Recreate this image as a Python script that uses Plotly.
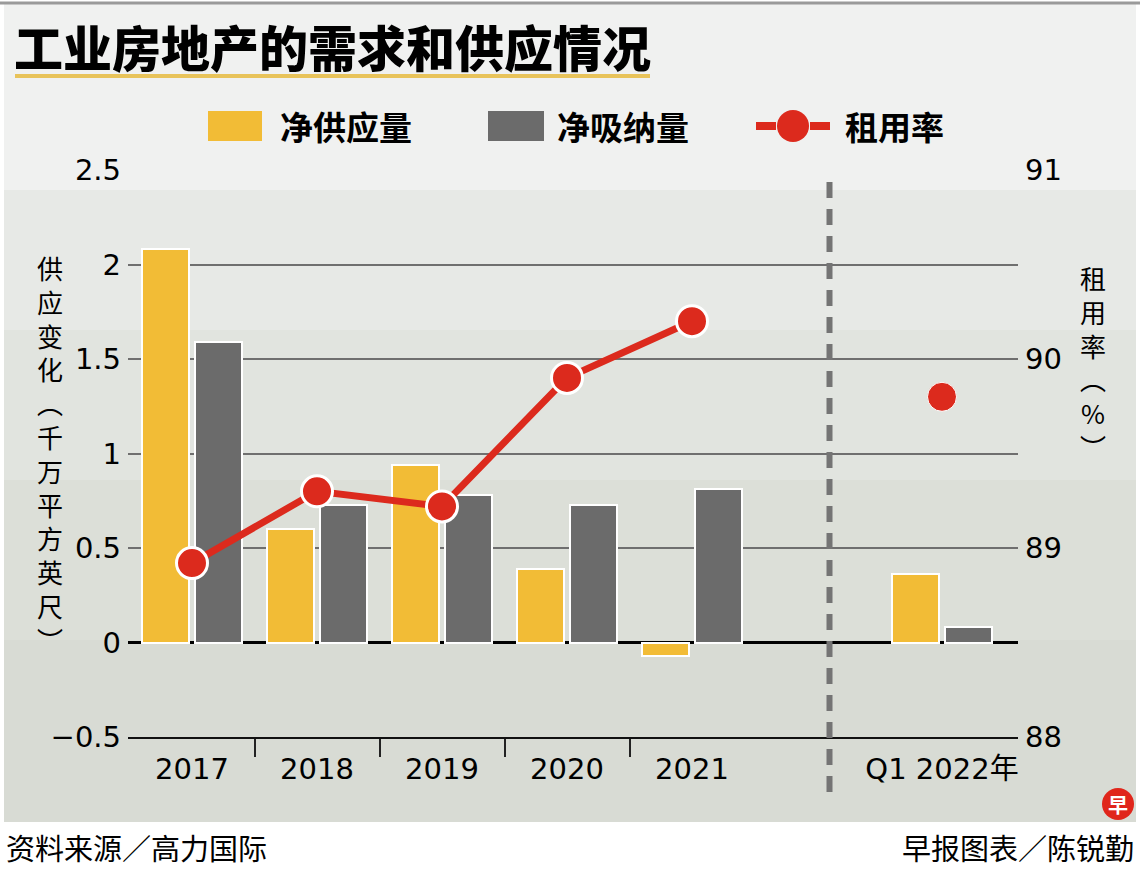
import plotly.graph_objects as go

# Data
categories = ["2017", "2018", "2019", "2020", "2021", "Q1 2022年"]
cat_pos = [0, 1, 2, 3, 4, 6]  # one empty slot before Q1 2022
net_supply = [2.08, 0.60, 0.94, 0.39, -0.07, 0.36]      # 净供应量
net_absorption = [1.59, 0.73, 0.78, 0.73, 0.81, 0.08]   # 净吸纳量
occupancy = [88.92, 89.30, 89.22, 89.90, 90.20, 89.80]  # 租用率 (%)
left_ticks = [-0.5, 0, 0.5, 1, 1.5, 2, 2.5]
left_tick_text = ["−0.5", "0", "0.5", "1", "1.5", "2", "2.5"]
right_ticks = [88, 89, 90, 91]
group_edges = [0.5, 1.5, 2.5, 3.5]
divider_at = 5.1

YELLOW = "#f2bc36"
GRAY = "#6b6b6b"
RED = "#dc2a1d"
CJK = "Noto Sans CJK SC"
NUM = "DejaVu Sans, Liberation Sans, sans-serif"

W, H = 1140, 871
L, R, T, B = 128, 122, 170, 134
X_RANGE = [-0.512, 6.608]


def px_x(p):
    return (p - L) / (W - L - R)


def px_y(p):
    return (H - B - p) / (H - B - T)


fig = go.Figure()

fig.add_trace(go.Bar(
    x=cat_pos, y=net_supply, width=0.376, offset=-0.40,
    marker=dict(color=YELLOW, line=dict(color="white", width=2)),
    name="净供应量", showlegend=False))
fig.add_trace(go.Bar(
    x=cat_pos, y=net_absorption, width=0.376, offset=0.024,
    marker=dict(color=GRAY, line=dict(color="white", width=2)),
    name="净吸纳量", showlegend=False))
fig.add_trace(go.Scatter(
    x=cat_pos[:5], y=occupancy[:5], yaxis="y2", mode="lines+markers",
    line=dict(color=RED, width=7),
    marker=dict(size=31, color=RED, line=dict(color="white", width=3)),
    name="租用率", showlegend=False))
fig.add_trace(go.Scatter(
    x=cat_pos[5:], y=occupancy[5:], yaxis="y2", mode="markers",
    marker=dict(size=29, color=RED, line=dict(color="white", width=1)),
    showlegend=False))

shapes = []
# washed-out photo background
bands = [(4, 190, "#f0f1f0"), (190, 330, "#e7e9e6"), (330, 480, "#e1e4df"),
         (480, 640, "#dcdfd8"), (640, 822, "#d8dbd4")]
for y0, y1, c in bands:
    shapes.append(dict(type="rect", xref="paper", yref="paper", layer="below",
                       x0=px_x(4), x1=px_x(1136), y0=px_y(y1), y1=px_y(y0),
                       fillcolor=c, line=dict(width=0)))
shapes.append(dict(type="line", xref="paper", yref="paper", layer="below",
                   x0=px_x(0), x1=px_x(1140), y0=px_y(3), y1=px_y(3),
                   line=dict(color="#9a9a9a", width=3)))
# title underline
shapes.append(dict(type="line", xref="paper", yref="paper",
                   x0=px_x(15), x1=px_x(650), y0=px_y(76), y1=px_y(76),
                   line=dict(color="#e8c35a", width=4)))
# dashed divider before Q1 2022
div_x = (divider_at - X_RANGE[0]) / (X_RANGE[1] - X_RANGE[0])
shapes.append(dict(type="line", xref="paper", yref="paper",
                   x0=div_x, x1=div_x, y0=px_y(792), y1=px_y(175),
                   line=dict(color="#747474", width=6, dash="16px,11px")))
# legend symbols
shapes.append(dict(type="rect", xref="paper", yref="paper",
                   x0=px_x(208), x1=px_x(262), y0=px_y(141), y1=px_y(111),
                   fillcolor=YELLOW, line=dict(width=0)))
shapes.append(dict(type="rect", xref="paper", yref="paper",
                   x0=px_x(488), x1=px_x(544), y0=px_y(141), y1=px_y(111),
                   fillcolor=GRAY, line=dict(width=0)))
for a, b in [(756, 776), (810, 830)]:
    shapes.append(dict(type="line", xref="paper", yref="paper",
                       x0=px_x(a), x1=px_x(b), y0=px_y(126), y1=px_y(126),
                       line=dict(color=RED, width=8)))
shapes.append(dict(type="circle", xref="paper", yref="paper",
                   x0=px_x(777), x1=px_x(809), y0=px_y(142), y1=px_y(110),
                   fillcolor=RED, line=dict(width=0)))
# logo
shapes.append(dict(type="circle", xref="paper", yref="paper",
                   x0=px_x(1102), x1=px_x(1134), y0=px_y(820), y1=px_y(788),
                   fillcolor="#e0261b", line=dict(width=0)))

annotations = []


def note(text, x, y, size, xanchor="center", family=CJK, color="black", weight=None):
    f = dict(family=family, size=size, color=color)
    if weight:
        f["weight"] = weight
    annotations.append(dict(text=text, x=px_x(x), y=px_y(y), xref="paper", yref="paper",
                            xanchor=xanchor, yanchor="middle", showarrow=False, font=f))


note("工业房地产的需求和供应情况", 12, 45, 49, xanchor="left", weight=900)
note("净供应量", 278, 126, 33, xanchor="left", weight=700)
note("净吸纳量", 555, 126, 33, xanchor="left", weight=700)
note("租用率", 843, 126, 33, xanchor="left", weight=700)

# vertical axis titles, one character per line
note("<br>".join("供应变化︵千万平方英尺︶"), 50, 453, 26)
note("<br>".join(["租", "用", "率", "︵", "%", "︶"]), 1093, 362, 26)

note("资料来源／高力国际", 4, 847, 29, xanchor="left")
note("早报图表／陈锐勤", 1136, 847, 29, xanchor="right")
note("早", 1118, 804, 20, color="white", weight=700)

fig.update_layout(
    width=W, height=H,
    margin=dict(l=L, r=R, t=T, b=B),
    paper_bgcolor="white", plot_bgcolor="rgba(0,0,0,0)",
    barmode="overlay", bargap=0,
    shapes=shapes, annotations=annotations,
    xaxis=dict(range=X_RANGE, tickmode="array", tickvals=cat_pos, ticktext=categories,
               ticks="", showgrid=False, zeroline=False,
               showline=True, linecolor="#111", linewidth=2,
               tickfont=dict(family=NUM + ", " + CJK, size=29, color="black"),
               ticklabelstandoff=5,
               minor=dict(tickmode="array", tickvals=group_edges, ticks="outside",
                          ticklen=18, tickwidth=2, tickcolor="#222", showgrid=False)),
    yaxis=dict(range=[-0.5, 2.5], tickmode="array", tickvals=left_ticks,
               ticktext=left_tick_text, ticks="", showgrid=True,
               gridcolor="#6f6f6f", gridwidth=2,
               zeroline=True, zerolinecolor="black", zerolinewidth=3,
               tickfont=dict(family=NUM, size=29, color="black"),
               ticklabelstandoff=6),
    yaxis2=dict(range=[88, 91], overlaying="y", side="right", tickmode="array",
                tickvals=right_ticks, ticks="", showgrid=False, zeroline=False,
                tickfont=dict(family=NUM, size=29, color="black"),
                ticklabelstandoff=6),
)

# page body has a default 8px margin; drop it so the figure fills the window
fig.write_html("out.html", config={"displayModeBar": False},
               post_script="document.body.style.margin='0px';")
